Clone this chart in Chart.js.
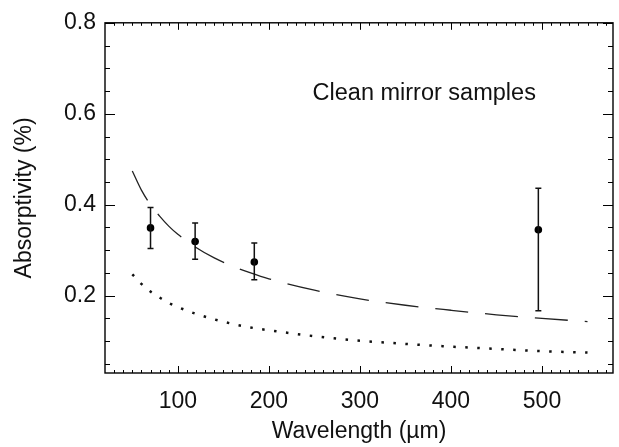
<!DOCTYPE html>
<html>
<head>
<meta charset="utf-8">
<script src="https://cdn.jsdelivr.net/npm/chart.js@4.4.0/dist/chart.umd.min.js"></script>
<style>
  html, body { margin: 0; padding: 0; background: #fff; }
  #wrap { width: 619px; height: 447px; }
</style>
</head>
<body>
<div id="wrap"><canvas id="chart" width="619" height="447"></canvas></div>
<script>
// Measured samples (wavelength in um, absorptivity in %)
const measWavelength = [70, 119, 184, 496];
const measAbsorp = [0.349, 0.319, 0.274, 0.345];
const errLow = [0.304, 0.280, 0.235, 0.167];
const errHigh = [0.394, 0.360, 0.316, 0.436];

// Model curves
const curveWavelength = [50, 60, 70, 80, 90, 100, 120, 140, 160, 180, 200, 250, 300, 350, 400, 450, 500, 550];
const dashedModel = [0.474, 0.432, 0.400, 0.375, 0.353, 0.335, 0.306, 0.283, 0.265, 0.250, 0.237, 0.212, 0.193, 0.179, 0.168, 0.158, 0.150, 0.143];
const dottedModel = [0.247, 0.226, 0.209, 0.196, 0.184, 0.175, 0.160, 0.148, 0.138, 0.130, 0.124, 0.111, 0.101, 0.094, 0.088, 0.083, 0.078, 0.075];

const xTicks = [100, 200, 300, 400, 500];
const yTicks = [0.2, 0.4, 0.6, 0.8];

const FONT = '"Liberation Sans", Arial, Helvetica, sans-serif';
const INK = '#111';

// frame, inward ticks, error bars and the label
const framePlugin = {
  id: 'frame',
  afterDatasetsDraw(chart) {
    const ctx = chart.ctx;
    const a = chart.chartArea;
    const xs = chart.scales.x, ys = chart.scales.y;
    ctx.save();

    // error bars
    ctx.strokeStyle = INK;
    ctx.lineWidth = 1.5;
    measWavelength.forEach((w, i) => {
      const px = xs.getPixelForValue(w);
      const top = ys.getPixelForValue(errHigh[i]);
      const bot = ys.getPixelForValue(errLow[i]);
      ctx.beginPath();
      ctx.moveTo(px, top); ctx.lineTo(px, bot);
      ctx.moveTo(px - 3, top); ctx.lineTo(px + 3, top);
      ctx.moveTo(px - 3, bot); ctx.lineTo(px + 3, bot);
      ctx.stroke();
    });

    // box
    ctx.lineWidth = 1.4;
    ctx.strokeStyle = '#000';
    ctx.strokeRect(a.left, a.top, a.right - a.left, a.bottom - a.top);

    // x ticks (bottom and top, pointing inward)
    ctx.lineWidth = 1;
    for (let v = 30; v <= 570; v += 10) {
      const px = Math.round(xs.getPixelForValue(v)) + 0.5;
      const len = v % 100 === 0 ? 7 : 3;
      ctx.beginPath();
      ctx.moveTo(px, a.bottom); ctx.lineTo(px, a.bottom - len);
      ctx.moveTo(px, a.top); ctx.lineTo(px, a.top + len);
      ctx.stroke();
    }
    // y ticks (left and right)
    for (let k = 1; k <= 16; k++) {
      const v = k * 0.05;
      const py = Math.round(ys.getPixelForValue(v)) + 0.5;
      const len = k % 4 === 0 ? 10 : 5;
      ctx.beginPath();
      ctx.moveTo(a.left, py); ctx.lineTo(a.left + len, py);
      ctx.moveTo(a.right, py); ctx.lineTo(a.right - len, py);
      ctx.stroke();
    }

    // annotation
    ctx.fillStyle = INK;
    ctx.font = '23.5px ' + FONT;
    ctx.textBaseline = 'middle';
    ctx.textAlign = 'left';
    ctx.fillText('Clean mirror samples', xs.getPixelForValue(248), ys.getPixelForValue(0.645));
    ctx.restore();
  }
};

new Chart(document.getElementById('chart'), {
  type: 'scatter',
  data: {
    datasets: [
      {
        label: 'model (dashed)',
        data: curveWavelength.map((x, i) => ({ x, y: dashedModel[i] })),
        showLine: true,
        pointRadius: 0,
        borderColor: '#222',
        borderWidth: 1.3,
        borderDash: [33, 17],
        cubicInterpolationMode: 'monotone'
      },
      {
        label: 'model (dotted)',
        data: curveWavelength.map((x, i) => ({ x, y: dottedModel[i] })),
        showLine: true,
        pointRadius: 0,
        borderColor: '#111',
        borderWidth: 2.5,
        borderDash: [2.5, 9.5],
        cubicInterpolationMode: 'monotone'
      },
      {
        label: 'measured',
        data: measWavelength.map((x, i) => ({ x, y: measAbsorp[i] })),
        pointRadius: 3.8,
        pointBackgroundColor: '#000',
        pointBorderColor: '#000',
        pointBorderWidth: 0
      }
    ]
  },
  options: {
    responsive: false,
    animation: false,
    devicePixelRatio: 1,
    layout: { padding: { top: 14, right: 6, left: 0, bottom: 0 } },
    plugins: { legend: { display: false }, tooltip: { enabled: false } },
    scales: {
      x: {
        type: 'linear',
        min: 20,
        max: 578,
        afterBuildTicks: s => { s.ticks = xTicks.map(v => ({ value: v })); },
        afterFit: s => { s.height = 74; },
        grid: { display: false, drawTicks: false },
        border: { display: false },
        ticks: { color: INK, padding: 15, font: { family: FONT, size: 23 } },
        title: {
          display: true,
          text: 'Wavelength (µm)',
          color: INK,
          font: { family: FONT, size: 23 },
          padding: { top: 0, bottom: 2 }
        }
      },
      y: {
        type: 'linear',
        min: 0.03,
        max: 0.8,
        afterBuildTicks: s => { s.ticks = yTicks.map(v => ({ value: v })); },
        afterFit: s => { s.width = 105; },
        grid: { display: false, drawTicks: false },
        border: { display: false },
        ticks: {
          color: INK,
          padding: 9,
          font: { family: FONT, size: 23 },
          callback: v => v.toFixed(1)
        },
        title: {
          display: true,
          text: 'Absorptivity (%)',
          color: INK,
          font: { family: FONT, size: 23 },
          padding: { top: 11, bottom: 0 }
        }
      }
    }
  },
  plugins: [framePlugin]
});
</script>
</body>
</html>
